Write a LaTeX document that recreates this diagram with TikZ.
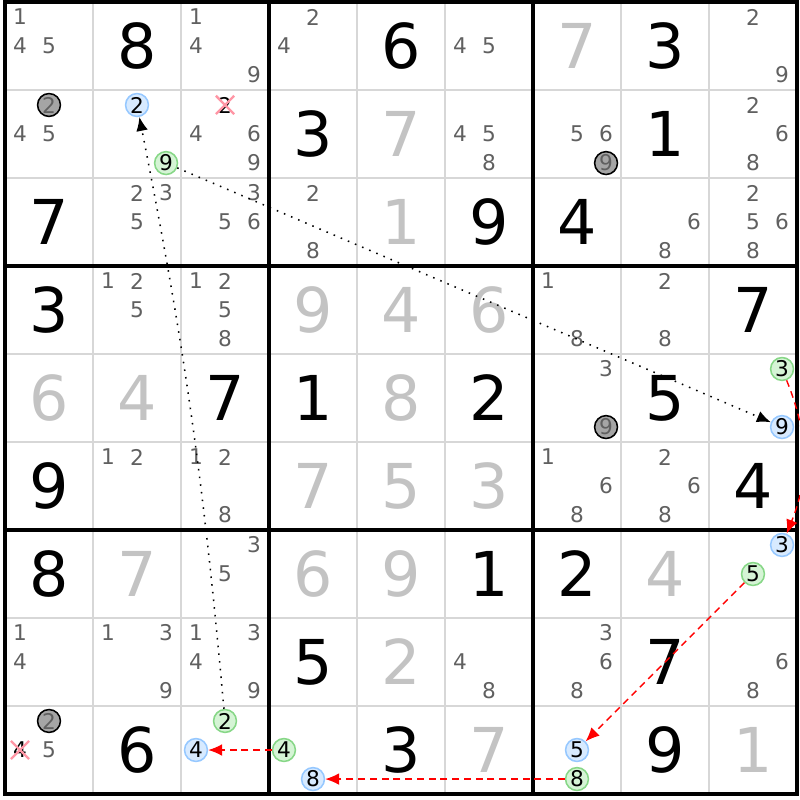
\documentclass[tikz,border=0pt]{standalone}
\usepackage{fontspec}
\setmainfont{DejaVu Sans}
\usetikzlibrary{calc}
\usetikzlibrary{arrows.meta}
\usetikzlibrary{shapes.misc}

\definecolor{candgray}{RGB}{96,96,96}
\definecolor{solvedgray}{RGB}{195,195,195}
\definecolor{gridgray}{RGB}{215,215,215}
\definecolor{ringblue}{RGB}{150,200,255}
\definecolor{fillblue}{RGB}{215,234,255}
\definecolor{ringgreen}{RGB}{135,215,135}
\definecolor{fillgreen}{RGB}{213,244,213}
\definecolor{fillgray}{RGB}{165,165,165}
\definecolor{strikepink}{RGB}{255,150,165}

\begin{document}
\begin{tikzpicture}[x=1cm,y=1cm,
    given/.style={font=\fontsize{20}{20}\selectfont, text=black, inner sep=0pt},
    solved/.style={given, text=solvedgray},
    cand/.style={font=\fontsize{7}{7}\selectfont, text=candgray, inner sep=0pt},
    blueon/.style={circle, draw=ringblue, fill=fillblue, line width=0.5pt, minimum size=0.26cm, text=black},
    greenon/.style={circle, draw=ringgreen, fill=fillgreen, line width=0.5pt, minimum size=0.26cm, text=black},
    grayon/.style={circle, draw=black, fill=fillgray, line width=0.5pt, minimum size=0.26cm, text=candgray},
    struck/.style={cross out, draw=strikepink, line width=0.75pt, minimum width=0.18cm, minimum height=0.16cm, text=black},
    weaklink/.style={black, dotted, line width=0.5pt, -{Latex[length=4.5pt,width=3.8pt]}},
    stronglink/.style={red, dash pattern=on 2.2pt off 1.6pt, line width=0.45pt, -{Latex[length=4.5pt,width=3.8pt]}}]

\useasboundingbox (-0.057,-0.068) rectangle (9.034,9.023);

% cell (row, col), row 1 on top
\newcommand{\given}[3]{
    \node[given] (n#1#2) at (#2-0.5, 9.5-#1) {#3};
}
\newcommand{\solved}[3]{
    \node[solved] (n#1#2) at (#2-0.5, 9.5-#1) {#3};
}
\newcommand{\cands}[3]{
    \foreach \d in {#3} {
        \node[cand] (c#1#2\d) at ({#2-0.5+(mod(\d-1,3)-1)*0.33}, {9.5-#1+(1-floor((\d-1)/3))*0.33}) {\d};
    }
}
\newcommand{\candon}[4]{
    \node[cand,#4] (c#1#2#3) at ({#2-0.5+(mod(#3-1,3)-1)*0.33}, {9.5-#1+(1-floor((#3-1)/3))*0.33}) {#3};
}

\newcommand{\drawgrid}{
    \foreach \i in {1,2,4,5,7,8} {
        \draw[gridgray, line width=0.5pt] (\i,0)--(\i,9);
        \draw[gridgray, line width=0.5pt] (0,\i)--(9,\i);
    }
    \foreach \i in {3,6} {
        \draw[black, line width=1.1pt] (\i,0)--(\i,9);
        \draw[black, line width=1.1pt] (0,\i)--(9,\i);
    }
    \draw[black, line width=1.2pt] (0,0) rectangle (9,9);
}

\drawgrid

% row 1
\cands{1}{1}{1,4,5}
\given{1}{2}{8}
\cands{1}{3}{1,4,9}
\cands{1}{4}{2,4}
\given{1}{5}{6}
\cands{1}{6}{4,5}
\solved{1}{7}{7}
\given{1}{8}{3}
\cands{1}{9}{2,9}

% row 2
\candon{2}{1}{2}{grayon}
\cands{2}{1}{4,5}
\candon{2}{2}{2}{blueon}
\candon{2}{2}{9}{greenon}
\candon{2}{3}{2}{struck}
\cands{2}{3}{4,6,9}
\given{2}{4}{3}
\solved{2}{5}{7}
\cands{2}{6}{4,5,8}
\cands{2}{7}{5,6}
\candon{2}{7}{9}{grayon}
\given{2}{8}{1}
\cands{2}{9}{2,6,8}

% row 3
\given{3}{1}{7}
\cands{3}{2}{2,3,5}
\cands{3}{3}{3,5,6}
\cands{3}{4}{2,8}
\solved{3}{5}{1}
\given{3}{6}{9}
\given{3}{7}{4}
\cands{3}{8}{6,8}
\cands{3}{9}{2,5,6,8}

% row 4
\given{4}{1}{3}
\cands{4}{2}{1,2,5}
\cands{4}{3}{1,2,5,8}
\solved{4}{4}{9}
\solved{4}{5}{4}
\solved{4}{6}{6}
\cands{4}{7}{1,8}
\cands{4}{8}{2,8}
\given{4}{9}{7}

% row 5
\solved{5}{1}{6}
\solved{5}{2}{4}
\given{5}{3}{7}
\given{5}{4}{1}
\solved{5}{5}{8}
\given{5}{6}{2}
\cands{5}{7}{3}
\candon{5}{7}{9}{grayon}
\given{5}{8}{5}
\candon{5}{9}{3}{greenon}
\candon{5}{9}{9}{blueon}

% row 6
\given{6}{1}{9}
\cands{6}{2}{1,2}
\cands{6}{3}{1,2,8}
\solved{6}{4}{7}
\solved{6}{5}{5}
\solved{6}{6}{3}
\cands{6}{7}{1,6,8}
\cands{6}{8}{2,6,8}
\given{6}{9}{4}

% row 7
\given{7}{1}{8}
\solved{7}{2}{7}
\cands{7}{3}{3,5}
\solved{7}{4}{6}
\solved{7}{5}{9}
\given{7}{6}{1}
\given{7}{7}{2}
\solved{7}{8}{4}
\candon{7}{9}{3}{blueon}
\candon{7}{9}{5}{greenon}

% row 8
\cands{8}{1}{1,4}
\cands{8}{2}{1,3,9}
\cands{8}{3}{1,3,4,9}
\given{8}{4}{5}
\solved{8}{5}{2}
\cands{8}{6}{4,8}
\cands{8}{7}{3,6,8}
\given{8}{8}{7}
\cands{8}{9}{6,8}

% row 9
\candon{9}{1}{2}{grayon}
\candon{9}{1}{4}{struck}
\cands{9}{1}{5}
\given{9}{2}{6}
\candon{9}{3}{2}{greenon}
\candon{9}{3}{4}{blueon}
\candon{9}{4}{4}{greenon}
\candon{9}{4}{8}{blueon}
\given{9}{5}{3}
\solved{9}{6}{7}
\candon{9}{7}{5}{blueon}
\candon{9}{7}{8}{greenon}
\given{9}{8}{9}
\solved{9}{9}{1}

% links
\draw[weaklink] (c932) to[bend right=3] (c222);
\draw[weaklink] (c229) -- (c599);
\draw[stronglink] (c593) to[bend left=22] (c793);
\draw[stronglink] (c795) -- (c975);
\draw[stronglink] (c978) -- (c948);
\draw[stronglink] (c944) -- (c934);

\end{tikzpicture}
\end{document}
